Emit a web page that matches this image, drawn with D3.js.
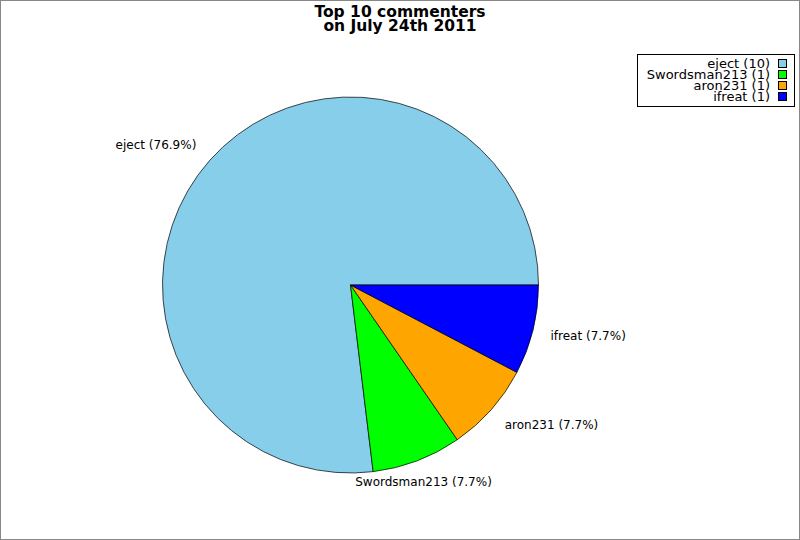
<!DOCTYPE html>
<html>
<head>
<meta charset="utf-8">
<script src="https://cdn.jsdelivr.net/npm/d3@7"></script>
<style>
  body { margin: 0; background: #fff; }
  text { font-family: "DejaVu Sans", sans-serif; fill: #000; }
  .title { font-size: 15.5px; font-weight: bold; }
  .slice-label { font-size: 12px; }
  .legend-label { font-size: 13px; }
</style>
</head>
<body>
<div id="chart"></div>
<script>
// Pie of top commenters, slices run counter-clockwise from 3 o'clock
const commenters = ["eject", "Swordsman213", "aron231", "ifreat"];
const counts = [10, 1, 1, 1];
const colors = ["#87ceeb", "#00ff00", "#ffa500", "#0000ff"];
const titleLines = ["Top 10 commenters", "on July 24th 2011"];

const width = 800, height = 540;
const cx = 350.5, cy = 285, radius = 188;
const labelRadius = 206;

const svg = d3.select("#chart").append("svg")
  .attr("width", width)
  .attr("height", height);

svg.append("rect")
  .attr("x", 0.5).attr("y", 0.5)
  .attr("width", width - 1).attr("height", height - 1)
  .style("fill", "#fff")
  .style("stroke", "#888");

// TITLE
titleLines.forEach((t, i) => {
  svg.append("text")
    .attr("class", "title")
    .attr("x", width / 2)
    .attr("y", 16.5 + i * 14)
    .attr("text-anchor", "middle")
    .text(t);
});

const total = d3.sum(counts);
const rows = commenters.map((name, i) => ({ name, value: counts[i], color: colors[i] }));

// d3 angles start at 12 o'clock clockwise; start at 3 o'clock and go backwards
const pie = d3.pie()
  .value(d => d.value)
  .sort(null)
  .startAngle(Math.PI / 2)
  .endAngle(Math.PI / 2 - 2 * Math.PI);

const arc = d3.arc().innerRadius(0).outerRadius(radius);

const plot = svg.append("g")
  .attr("transform", `translate(${cx},${cy})`);

const arcs = pie(rows);

plot.selectAll("path.slice")
  .data(arcs)
  .join("path")
  .attr("class", "slice")
  .attr("d", arc)
  .style("fill", d => d.data.color)
  .style("stroke", "#000")
  .style("stroke-width", 0.7)
  .style("stroke-linejoin", "round");

// SLICE LABELS — text box corner sits on the label circle
const pct = d3.format(".1f");
arcs.forEach(d => {
  const mid = (d.startAngle + d.endAngle) / 2;
  const sx = Math.sin(mid), sy = -Math.cos(mid);
  const anchor = sx > 0.5 ? "start" : (sx < -0.5 ? "end" : "middle");
  plot.append("text")
    .attr("class", "slice-label")
    .attr("x", sx * labelRadius)
    .attr("y", sy * labelRadius + sy * 5)
    .attr("dy", "0.35em")
    .attr("text-anchor", anchor)
    .text(`${d.data.name} (${pct(d.data.value / total * 100)}%)`);
});

// LEGEND
const legend = svg.append("g");
legend.append("rect")
  .attr("x", 637.5).attr("y", 54.5)
  .attr("width", 157).attr("height", 52)
  .style("fill", "#fff")
  .style("stroke", "#000");

rows.forEach((r, i) => {
  const y = 63.5 + i * 11;
  legend.append("text")
    .attr("class", "legend-label")
    .attr("x", 770)
    .attr("y", y)
    .attr("dy", "0.35em")
    .attr("text-anchor", "end")
    .text(`${r.name} (${r.value})`);
  legend.append("rect")
    .attr("x", 778.5).attr("y", y - 4)
    .attr("width", 8).attr("height", 8)
    .style("fill", r.color)
    .style("stroke", "#000");
});
</script>
</body>
</html>
